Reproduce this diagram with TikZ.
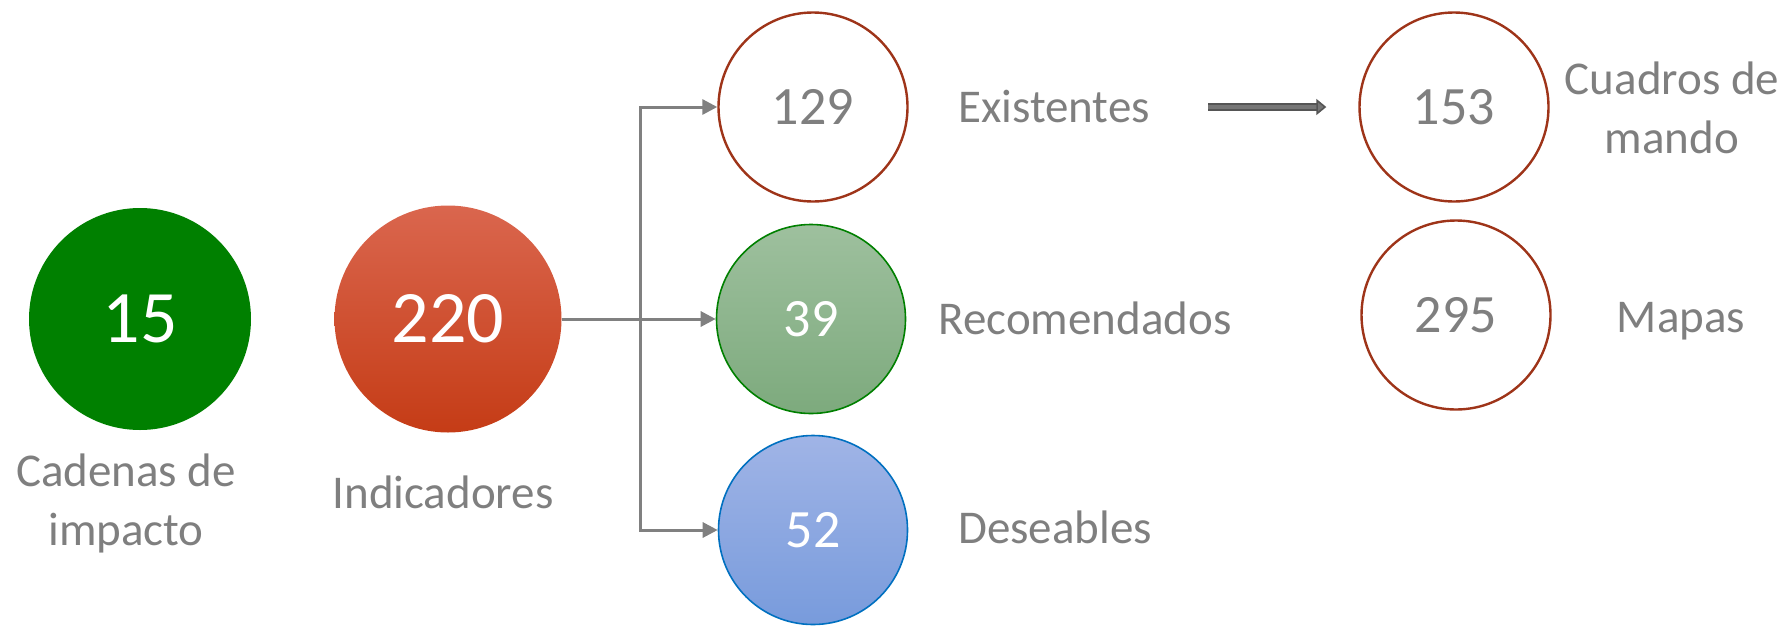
\documentclass[tikz,border=0pt]{standalone}
\usepackage{fontspec}
\setmainfont{Carlito}
\usetikzlibrary{arrows.meta}
\definecolor{txtgray}{RGB}{127,127,127}
\definecolor{linegray}{RGB}{128,128,128}
\definecolor{rust}{RGB}{158,52,25}
\definecolor{leafgreen}{RGB}{0,128,0}
\definecolor{oceanblue}{RGB}{0,112,192}
\definecolor{edgegray}{RGB}{85,85,85}
\definecolor{midgray}{RGB}{118,118,118}
\begin{document}
\begin{tikzpicture}[x=0.5pt, y=-0.5pt,
    num/.style={circle, inner sep=0pt, minimum size=94.5pt, text=white, font=\fontsize{27}{30}\selectfont},
    ring/.style={num, draw=rust, line width=1.2pt, fill=white, text=txtgray},
    big/.style={circle, inner sep=0pt, text=white, font=\fontsize{37}{40}\selectfont},
    lbl/.style={text=txtgray, inner sep=0pt, align=center, font=\fontsize{23.5}{29.5}\selectfont},
    conn/.style={draw=linegray, line width=1.5pt, -{Triangle[length=7.5pt, width=7.5pt]}},
    dbl/.style={draw=edgegray, double=midgray, double distance=2pt, line width=0.8pt, -{Triangle[length=5pt, width=8pt, fill=midgray]}}]
\useasboundingbox (0,0) rectangle (1792,627);

\node[big, fill=leafgreen, minimum size=111pt] (cad) at (140,319) {15};
\node[big, top color={rgb,255:red,218;green,102;blue,78}, middle color={rgb,255:red,214;green,74;blue,36}, bottom color={rgb,255:red,197;green,60;blue,22}, minimum size=113.5pt] (ind) at (448,319) {220};

\node[ring] (exi) at (813,107) {129};
\node[num, draw=leafgreen, line width=0.8pt, top color={rgb,255:red,158;green,192;blue,158}, bottom color={rgb,255:red,125;green,170;blue,125}] (rec) at (811,319) {39};
\node[num, draw=oceanblue, line width=0.8pt, top color={rgb,255:red,160;green,180;blue,230}, bottom color={rgb,255:red,120;green,155;blue,220}] (des) at (813,530) {52};
\node[ring] (cua) at (1454,107) {153};
\node[ring] (map) at (1456,315) {295};

\node[lbl] (lcad) at (126,503) {Cadenas de\\impacto};
\node[lbl, anchor=base] (lind) at (443,508) {Indicadores};
\node[lbl, anchor=base] (lexi) at (1054,122) {Existentes};
\node[lbl, anchor=base] (lrec) at (1085,334) {Recomendados};
\node[lbl, anchor=base] (ldes) at (1055,543) {Deseables};
\node[lbl] (lcua) at (1672,108) {Cuadros de\\mando};
\node[lbl, anchor=base] (lmap) at (1681,332) {Mapas};

\coordinate (split) at (640,319);
\coordinate (dstart) at (1208,107);
\draw[conn] (ind.east) -- (rec.west);
\draw[conn] (split) |- (exi.west);
\draw[conn] (split) |- (des.west);
\draw[dbl, shorten >=16pt] (dstart) -- (dstart -| cua.west);
\end{tikzpicture}
\end{document}
